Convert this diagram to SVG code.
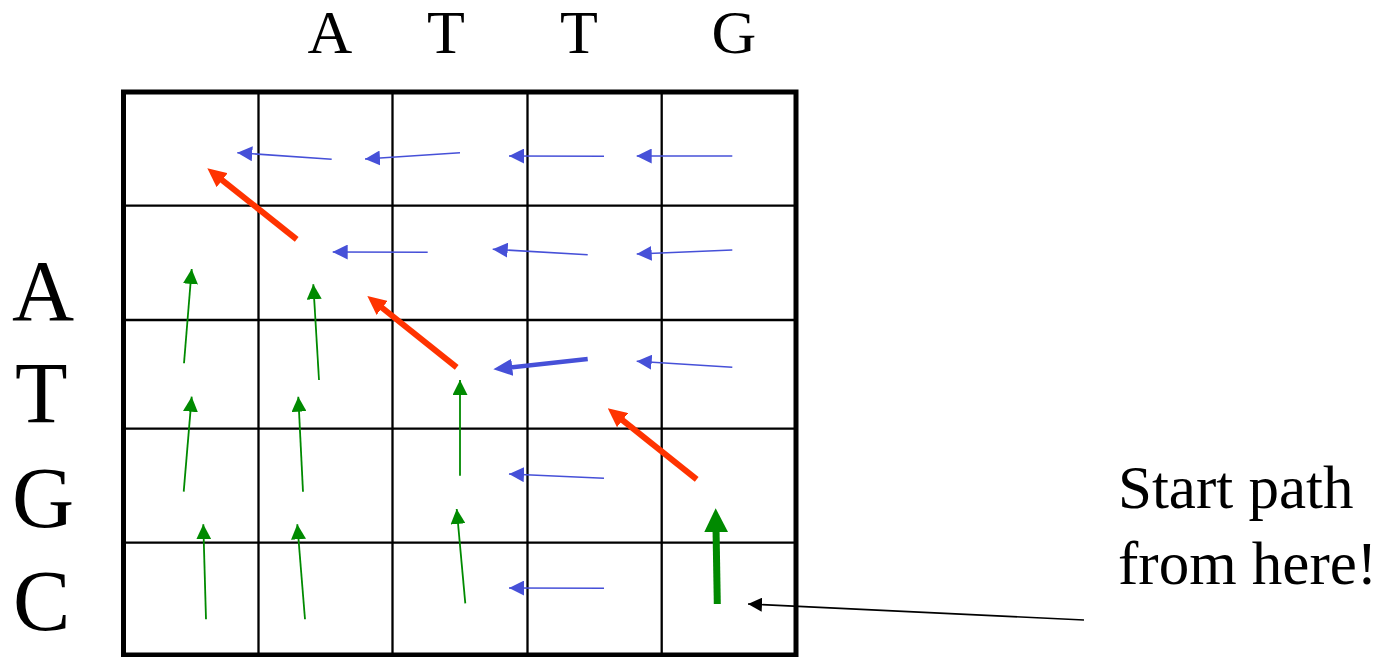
<svg xmlns="http://www.w3.org/2000/svg" width="1389" height="657" viewBox="0 0 1389 657">
<style>
.lbl{fill:#000}
.grid{stroke:#000;stroke-width:2.3;fill:none}
.bt{stroke:#4650D8;stroke-width:1.6;fill:none}
.gt{stroke:#008A00;stroke-width:1.8;fill:none}
.rd{stroke:#FF3300;stroke-width:6;fill:none}
</style>
<defs>
<marker id="mb" markerUnits="userSpaceOnUse" markerWidth="15" markerHeight="15" refX="15" refY="7.5" orient="auto"><path d="M0,0L15,7.5L0,15z" fill="#4650D8"/></marker>
<marker id="mg" markerUnits="userSpaceOnUse" markerWidth="15" markerHeight="15" refX="15" refY="7.5" orient="auto"><path d="M0,0L15,7.5L0,15z" fill="#008A00"/></marker>
<marker id="mr" markerUnits="userSpaceOnUse" markerWidth="19" markerHeight="18" refX="11" refY="9" orient="auto"><path d="M0,0L19,9L0,18z" fill="#FF3300"/></marker>
<marker id="mbk" markerUnits="userSpaceOnUse" markerWidth="19" markerHeight="17" refX="13" refY="8.5" orient="auto"><path d="M0,0L19,8.5L0,17z" fill="#4650D8"/></marker>
<marker id="mgk" markerUnits="userSpaceOnUse" markerWidth="24" markerHeight="24" refX="16" refY="12" orient="auto"><path d="M0,0L24,12L0,24z" fill="#008A00"/></marker>
<marker id="mk" markerUnits="userSpaceOnUse" markerWidth="14" markerHeight="14" refX="14" refY="7" orient="auto"><path d="M0,0L14,7L0,14z" fill="#000"/></marker>
</defs>
<rect width="1389" height="657" fill="#fff"/>
<g id="grid">
<rect x="123.5" y="92" width="672.5" height="563" fill="none" stroke="#000" stroke-width="5"/>
<path class="grid" d="M258.5,92V655M392.5,92V655M527.5,92V655M661.7,92V655M123.5,205.7H796M123.5,320H796M123.5,428.7H796M123.5,542.7H796"/>
</g>
<g id="col-labels" font-family="'Liberation Serif', 'Times New Roman', 'DejaVu Serif', serif" font-size="62" text-anchor="middle">
<text class="lbl" x="330" y="53">A</text>
<text class="lbl" x="446" y="53">T</text>
<text class="lbl" x="579" y="53">T</text>
<text class="lbl" x="734" y="53">G</text>
</g>
<g id="row-labels" font-family="'Liberation Serif', 'Times New Roman', 'DejaVu Serif', serif" font-size="86">
<text class="lbl" x="12" y="320">A</text>
<text class="lbl" x="15" y="422">T</text>
<text class="lbl" x="12" y="527">G</text>
<text class="lbl" x="13" y="630">C</text>
</g>
<g id="connectors">
<line class="bt" x1="331.7" y1="159.3" x2="237.3" y2="152.7" marker-end="url(#mb)"/>
<line class="bt" x1="460" y1="152.7" x2="365" y2="159" marker-end="url(#mb)"/>
<line class="bt" x1="604" y1="156.3" x2="509" y2="156" marker-end="url(#mb)"/>
<line class="bt" x1="732.3" y1="156" x2="636.7" y2="156" marker-end="url(#mb)"/>
<line class="bt" x1="427.7" y1="252.3" x2="332.7" y2="252" marker-end="url(#mb)"/>
<line class="bt" x1="587.7" y1="254.7" x2="492.7" y2="249.3" marker-end="url(#mb)"/>
<line class="bt" x1="732.3" y1="250" x2="636.7" y2="254" marker-end="url(#mb)"/>
<line class="bt" x1="732.3" y1="367.3" x2="636.7" y2="361.3" marker-end="url(#mb)"/>
<line class="bt" x1="604" y1="478.3" x2="509" y2="474" marker-end="url(#mb)"/>
<line class="bt" x1="604" y1="588.3" x2="509" y2="588" marker-end="url(#mb)"/>
<line x1="587.7" y1="359" x2="499.3" y2="368.7" stroke="#4650D8" stroke-width="4.5" marker-end="url(#mbk)"/>
<line class="gt" x1="184" y1="363.3" x2="191.7" y2="269" marker-end="url(#mg)"/>
<line class="gt" x1="319" y1="380" x2="313.3" y2="284.3" marker-end="url(#mg)"/>
<line class="gt" x1="183.7" y1="491.7" x2="191.7" y2="396.7" marker-end="url(#mg)"/>
<line class="gt" x1="303" y1="491.7" x2="298.3" y2="396.7" marker-end="url(#mg)"/>
<line class="gt" x1="460" y1="475.7" x2="460" y2="380" marker-end="url(#mg)"/>
<line class="gt" x1="206" y1="619.3" x2="203.3" y2="524.3" marker-end="url(#mg)"/>
<line class="gt" x1="305" y1="619.3" x2="297.3" y2="524.3" marker-end="url(#mg)"/>
<line class="gt" x1="465.3" y1="603.3" x2="456.7" y2="509" marker-end="url(#mg)"/>
<line x1="717.3" y1="604" x2="715.8" y2="516.3" stroke="#008A00" stroke-width="7" marker-end="url(#mgk)"/>
<line class="rd" x1="296.7" y1="239.3" x2="213.6" y2="173.3" marker-end="url(#mr)"/>
<line class="rd" x1="456.7" y1="367.3" x2="373.6" y2="301" marker-end="url(#mr)"/>
<line class="rd" x1="696.7" y1="479.3" x2="614" y2="413.3" marker-end="url(#mr)"/>
<line x1="1084" y1="620" x2="748" y2="604" stroke="#000" stroke-width="1.6" marker-end="url(#mk)"/>
</g>
<g id="note" font-family="'Liberation Serif', 'Times New Roman', 'DejaVu Serif', serif" font-size="61">
<text class="lbl" x="1118" y="508">Start path</text>
<text class="lbl" x="1118" y="584">from here!</text>
</g>
</svg>
